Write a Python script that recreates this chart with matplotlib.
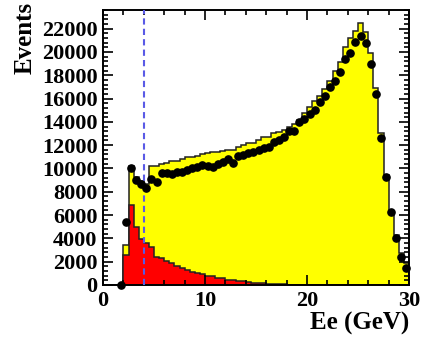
import numpy as np
import matplotlib
matplotlib.use("Agg")
import matplotlib.pyplot as plt
from matplotlib.ticker import MultipleLocator

plt.rcParams['font.family'] = ['Liberation Serif', 'DejaVu Serif']
plt.rcParams['font.weight'] = 'bold'

# 0.5 GeV bins from 0 to 30
edges = np.arange(0, 30.01, 0.5)

# total MC (signal + background), yellow
mc_total = [0, 0, 0, 0,
            3450, 10250, 9300, 8900, 8700, 10200, 10200, 10380, 10500, 10650,
            10680, 10780, 10960, 10980, 11070, 11250, 11300, 11440, 11400, 11480,
            11560, 11600, 11870, 12010, 12160, 12200, 12440, 12670, 12700, 13010,
            13150, 13300, 13580, 13810, 14160, 14800, 15300, 15810, 16220, 16790,
            17500, 18360, 19160, 20450, 21170, 21820, 22500, 21740, 19930, 16880,
            13010, 9440, 6290, 4290, 2720, 1890]

# background, red
background = [0, 0, 0, 0,
              2570, 6860, 5000, 3920, 3580, 3250, 2430, 2350, 2100, 1860,
              1660, 1490, 1290, 1140, 1050, 960, 800, 740, 640, 600,
              460, 420, 330, 300, 240, 210, 160, 140, 110, 90,
              70, 50, 40, 30, 20, 15, 10, 10, 8, 6,
              5, 4, 3, 2, 0, 0, 0, 0, 0, 0,
              0, 0, 0, 0, 0, 0]

# data points, first entry at bin centre 1.75 GeV
data_start = 1.75
data = [0, 5430, 10000, 9050, 8650, 8350, 9100, 8850, 9650, 9620,
        9550, 9700, 9720, 9840, 10010, 10150, 10300, 10180, 10150, 10350,
        10580, 10780, 10480, 11100, 11150, 11340, 11400, 11600, 11720, 11870,
        12300, 12440, 12670, 13180, 13230, 14000, 14260, 14640, 15010, 15700,
        16240, 16950, 17520, 18320, 19370, 19950, 20840, 21360, 20730, 18950,
        16420, 12610, 9290, 6290, 4000, 2430, 1480]

cut = 4.0

fig = plt.figure(figsize=(4.23, 3.42), dpi=100)
ax = fig.add_axes([0.2435, 0.1667, 0.7235, 0.8041])

ax.stairs(mc_total, edges, fill=True, color='#ffff00')
ax.stairs(mc_total, edges, color='#222222', lw=1.1)
ax.stairs(background, edges, fill=True, color='#ff0000')
ax.stairs(background, edges, color='#222222', lw=1.1)

xd = data_start + 0.5 * np.arange(len(data))
ax.plot(xd, data, 'o', color='k', ms=5.2, clip_on=False, zorder=5)

ax.axvline(cut, color='#5a5ae6', ls=(0, (3, 2)), lw=1.5, zorder=4)

ax.set_xlim(0, 30)
ax.set_ylim(0, 23600)

ax.xaxis.set_major_locator(MultipleLocator(10))
ax.xaxis.set_minor_locator(MultipleLocator(2))
ax.yaxis.set_major_locator(MultipleLocator(2000))
ax.yaxis.set_minor_locator(MultipleLocator(400))
ax.tick_params(which='both', direction='in', top=True, right=True, width=1.2)
ax.tick_params(which='major', length=7, labelsize=16, pad=4)
ax.tick_params(which='minor', length=3.5)
for s in ax.spines.values():
    s.set_linewidth(1.4)

ax.set_xlabel('Ee (GeV)', fontsize=18, fontweight='bold', loc='right', labelpad=1)
ax.set_ylabel('Events', fontsize=18, fontweight='bold', loc='top', labelpad=3)
ax.yaxis.set_label_coords(-0.255, 1.03, transform=ax.transAxes)
ax.yaxis.label.set_verticalalignment('center')

fig.savefig('out.png', dpi=100)
